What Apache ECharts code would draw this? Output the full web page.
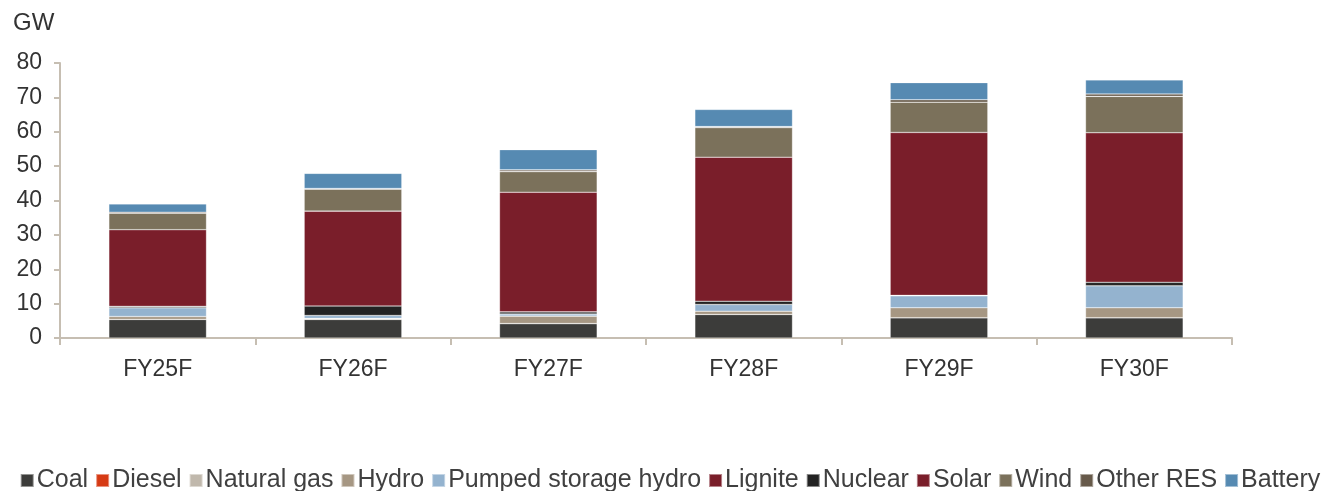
<!DOCTYPE html>
<html>
<head>
<meta charset="utf-8">
<title>GW by source</title>
<script src="https://cdn.jsdelivr.net/npm/echarts@6/dist/echarts.min.js"></script>
<style>
    html, body { margin: 0; padding: 0; background: #fff; }
    #main { width: 1340px; height: 491px; }
</style>
</head>
<body>
<div id="main"></div>
<script>
var years = ['FY25F', 'FY26F', 'FY27F', 'FY28F', 'FY29F', 'FY30F'];

var coal       = [5.4, 5.4, 4.2, 6.85, 5.9, 5.9];
var diesel     = [0, 0, 0, 0, 0, 0];
var naturalGas = [0, 0.3, 0, 0, 0, 0];
var hydro      = [0.85, 0, 2.15, 0.95, 2.9, 2.9];
var pumped     = [2.55, 0.85, 0.65, 1.95, 3.5, 6.4];
var lignite    = [0, 0, 0, 0, 0, 0];
var nuclear    = [0.4, 2.75, 0.6, 0.95, 0.1, 1.0];
var solar      = [22.3, 27.6, 34.8, 41.9, 47.4, 43.5];
var wind       = [4.8, 6.4, 6.0, 8.6, 8.8, 10.6];
var otherRes   = [0.3, 0.2, 0.5, 0.3, 0.7, 0.7];
var battery    = [2.4, 4.4, 5.9, 5.0, 5.0, 4.1];

var seriesNames = ['Coal', 'Diesel', 'Natural gas', 'Hydro', 'Pumped storage hydro', 'Lignite',
    'Nuclear', 'Solar', 'Wind', 'Other RES', 'Battery'];
var seriesData = [coal, diesel, naturalGas, hydro, pumped, lignite, nuclear, solar, wind, otherRes, battery];
var seriesColors = ['#3c3c3a', '#d63a14', '#c0b8ac', '#a69783', '#94b3cf', '#7a1e2a',
    '#232323', '#7a1e2a', '#7b715b', '#675a4a', '#568ab2'];

var myChart = echarts.init(document.getElementById('main'));

// one stacked bar series per source
var series = seriesNames.map(function (name, i) {
    return {
        name: name,
        type: 'bar',
        stack: 'total',
        barWidth: '50%',
        data: seriesData[i],
        itemStyle: {
            color: seriesColors[i],
            borderColor: 'rgba(255,255,255,0.45)',
            borderWidth: 0.6
        }
    };
});

var option = {
    animation: false,
    textStyle: { fontFamily: 'Liberation Sans, Arial, sans-serif' },
    title: {
        text: 'GW',
        left: 8,
        top: 6,
        textStyle: { fontSize: 24, fontWeight: 'normal', color: '#333' }
    },
    legend: {
        data: seriesNames,
        top: 463,
        left: 'center',
        icon: 'rect',
        itemWidth: 13,
        itemHeight: 13,
        itemGap: 7,
        textStyle: { fontSize: 25, color: '#404040', padding: [0, 0, 0, -2] }
    },
    grid: {
        left: 60,
        right: 108,
        top: 63,
        bottom: 153,
        containLabel: false
    },
    xAxis: {
        type: 'category',
        data: years,
        axisLine: { lineStyle: { color: '#c6beb2', width: 2 } },
        axisTick: { show: true, length: 7, lineStyle: { color: '#c6beb2', width: 2 } },
        axisLabel: { fontSize: 23, color: '#333', margin: 20 }
    },
    yAxis: {
        type: 'value',
        min: 0,
        max: 80,
        interval: 10,
        splitLine: { show: false },
        axisLine: { show: true, lineStyle: { color: '#c6beb2', width: 2 } },
        axisTick: { show: true, length: 6, lineStyle: { color: '#c6beb2', width: 2 } },
        axisLabel: { fontSize: 23, color: '#333', margin: 18 }
    },
    series: series
};

myChart.setOption(option);
</script>
</body>
</html>
